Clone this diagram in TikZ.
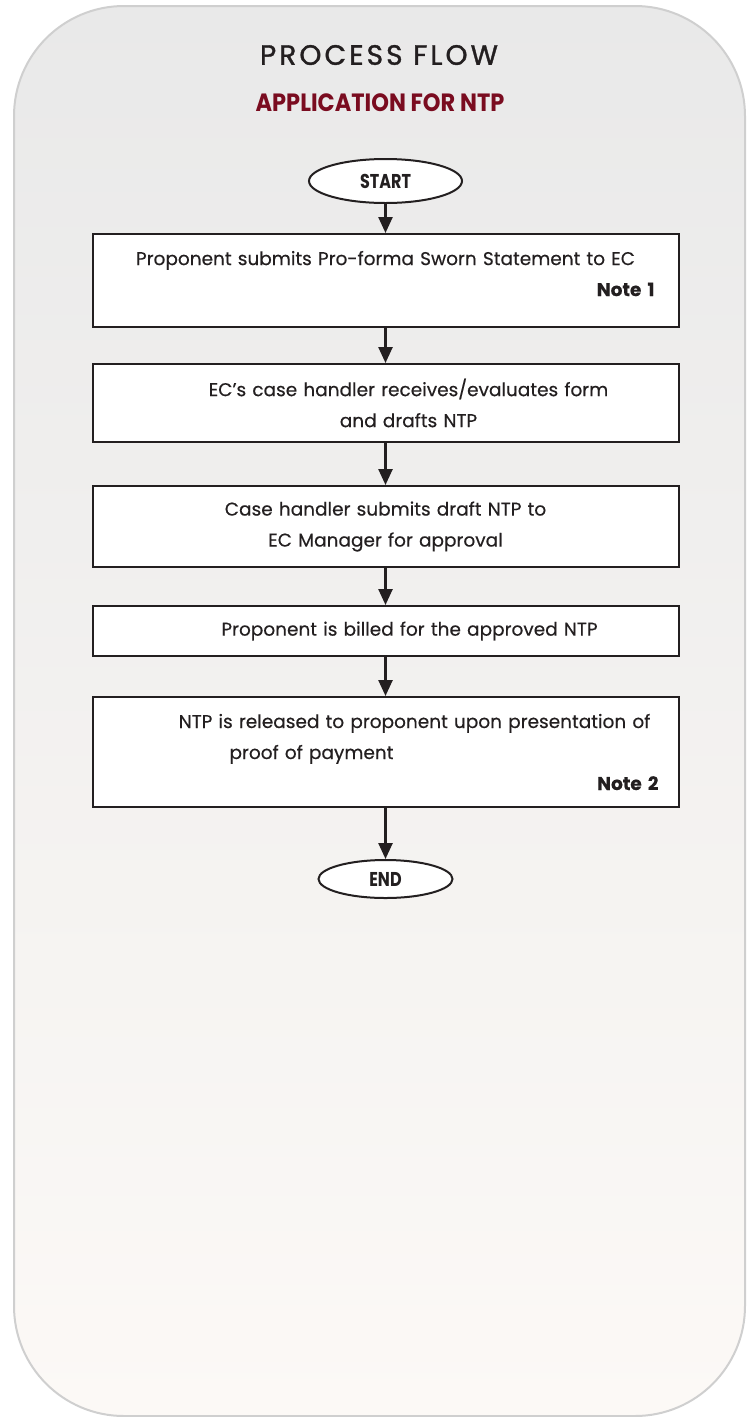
\documentclass[tikz,border=0pt]{standalone}
\usepackage{fontspec}
\setmainfont{Poppins}
\usetikzlibrary{positioning,arrows.meta,shapes.geometric}

\definecolor{inkdark}{HTML}{231F20}
\definecolor{ntpred}{HTML}{7A0C20}
\definecolor{frametop}{HTML}{E9E9E9}
\definecolor{framebottom}{HTML}{FCF9F6}
\definecolor{frameline}{HTML}{CFCFCF}

\begin{document}
\begin{tikzpicture}[
    x=1pt, y=-1pt,
    font=\fontsize{18.5}{31}\selectfont\addfontfeatures{FakeBold=0.4},
    >={Triangle[width=14pt,length=16pt]},
    stepbox/.style={
        draw=inkdark,
        fill=white,
        text=inkdark,
        line width=2pt,
        align=center,
        minimum width=586pt,
        text width=566pt,
        inner xsep=10pt,
        inner ysep=0pt
    },
    term/.style={
        ellipse,
        draw=inkdark,
        fill=white,
        text=inkdark,
        line width=2pt,
        inner sep=0pt,
        font=\fontsize{20}{20}\selectfont\bfseries\addfontfeatures{FakeStretch=0.8}
    },
    frame/.style={
        draw=frameline,
        line width=2pt,
        rounded corners=110pt,
        top color=frametop,
        bottom color=framebottom
    }
]
\useasboundingbox (0,0) rectangle (747,1417);

% Background panel
\path[frame] (14,6) rectangle (745,1416);

% Headings
\node[text=inkdark, font=\fontsize{28}{28}\selectfont\addfontfeatures{LetterSpace=11,FakeBold=1.2}] (title) at (379,55) {PROCESS FLOW};
\node[text=ntpred, font=\fontsize{25}{25}\selectfont\bfseries\addfontfeatures{FakeStretch=0.9}] (subtitle) at (380,103) {APPLICATION FOR NTP};

% Flow steps
\node[term, minimum width=153pt, minimum height=44pt] (start) at (385.5,181) {START};
\node[stepbox, minimum height=93pt, below=29pt of start] (submit) {
    Proponent submits Pro-forma Sworn Statement to EC\\
    \makebox[\hsize][r]{\rule[-14pt]{0pt}{0pt}\bfseries Note 1\hspace*{14pt}}
};
\node[stepbox, minimum height=78pt, below=35pt of submit] (evaluate) {
    \hspace*{46pt}EC’s case handler receives/evaluates form\\
    \hspace*{46pt}and drafts NTP
};
\node[stepbox, minimum height=81pt, below=42pt of evaluate] (approve) {
    Case handler submits draft NTP to\\
    EC Manager for approval
};
\node[stepbox, minimum height=50pt, below=37pt of approve] (bill) {
    \hspace*{48pt}Proponent is billed for the approved NTP
};
\node[stepbox, minimum height=110pt, below=39pt of bill] (release) {
    \hspace*{58pt}NTP is released to proponent upon presentation of\\
    \hspace*{-148pt}proof of payment\\
    \makebox[\hsize][r]{\bfseries Note 2\hspace*{10pt}}
};
\node[term, minimum width=134pt, minimum height=38pt, below=51pt of release] (finish) {END};

% Connections
\draw[->, draw=inkdark, line width=2.5pt] (start) -- (submit);
\draw[->, draw=inkdark, line width=2.5pt] (submit) -- (evaluate);
\draw[->, draw=inkdark, line width=2.5pt] (evaluate) -- (approve);
\draw[->, draw=inkdark, line width=2.5pt] (approve) -- (bill);
\draw[->, draw=inkdark, line width=2.5pt] (bill) -- (release);
\draw[->, draw=inkdark, line width=2.5pt] (release) -- (finish);

\end{tikzpicture}
\end{document}
